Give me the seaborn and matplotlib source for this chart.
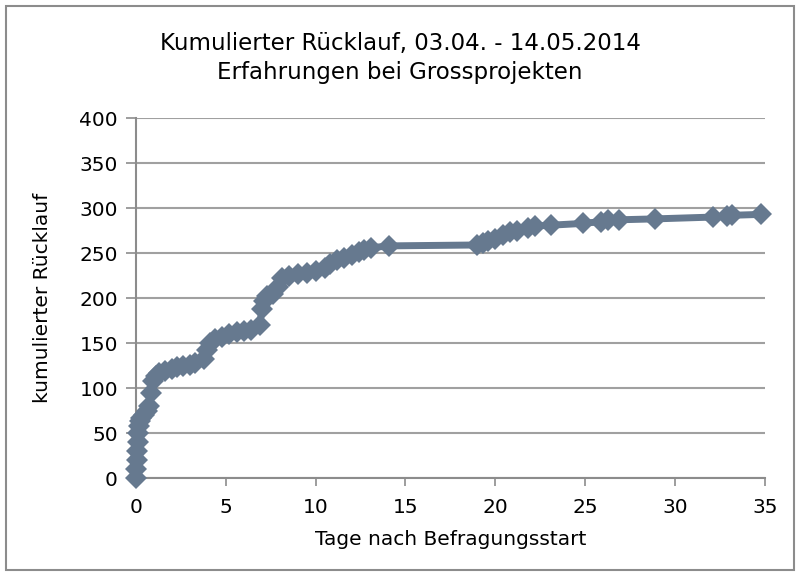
import matplotlib
matplotlib.use("Agg")
import matplotlib.pyplot as plt
import seaborn as sns
import pandas as pd
from matplotlib.patches import Rectangle

# days after survey start and cumulative responses
tage = [0.0, 0.02, 0.05, 0.08, 0.1, 0.12, 0.15, 0.2, 0.3, 0.45, 0.6, 0.75,
        0.85, 0.95, 1.1, 1.3, 1.6, 2.0, 2.3, 2.6, 3.0, 3.3, 3.8, 3.95, 4.1,
        4.4, 4.8, 5.2, 5.6, 6.0, 6.4, 6.9, 7.0, 7.1, 7.3, 7.6, 7.9, 8.1,
        8.5, 9.0, 9.5, 10.0, 10.5, 10.8, 11.2, 11.6, 12.0, 12.4, 12.7, 13.1,
        14.1, 19.0, 19.3, 19.6, 20.0, 20.4, 20.8, 21.2, 21.8, 22.2, 23.1,
        24.9, 25.9, 26.3, 26.9, 28.9, 32.1, 32.9, 33.2, 34.8]
ruecklauf = [0, 10, 20, 30, 40, 50, 58, 63, 67, 70, 74, 80,
             95, 108, 113, 117, 119, 121, 123, 125, 126, 128, 132, 142, 150,
             154, 157, 160, 162, 163, 165, 170, 188, 197, 202, 205, 212, 222,
             225, 227, 228, 230, 233, 238, 242, 245, 248, 251, 253, 256,
             258, 259, 261, 263, 266, 270, 273, 275, 278, 280, 281,
             283, 285, 287, 287, 288, 290, 291, 292, 293]
xticks = [0, 5, 10, 15, 20, 25, 30, 35]
yticks = [0, 50, 100, 150, 200, 250, 300, 350, 400]

df = pd.DataFrame({"tage": tage, "ruecklauf": ruecklauf})

sns.set_style("white")
plt.rcParams['font.family'] = ['DejaVu Sans']

farbe = "#66798f"
grau = "#8c8c8c"

fig = plt.figure(figsize=(8, 5.76), dpi=100)
ax = fig.add_axes([0.17, 0.17, 0.786, 0.625])

sns.lineplot(data=df, x="tage", y="ruecklauf", sort=False, ax=ax,
             color=farbe, linewidth=5, marker="D", markersize=11.5,
             markeredgewidth=0, zorder=3, clip_on=False)

ax.set_xlim(0, 35)
ax.set_ylim(0, 400)
ax.set_xticks(xticks)
ax.set_yticks(yticks)
ax.yaxis.grid(True, color="#a0a0a0", linewidth=1.5)
ax.set_axisbelow(True)
for s in ["top", "right"]:
    ax.spines[s].set_visible(False)
for s in ["left", "bottom"]:
    ax.spines[s].set_color(grau)
    ax.spines[s].set_linewidth(1.5)
ax.tick_params(axis="x", bottom=True, length=6, width=1.2, color=grau,
               labelsize=14.5, pad=8, labelcolor="black")
ax.tick_params(axis="y", left=True, length=7, width=1.2, color=grau,
               labelsize=14.5, pad=6, labelcolor="black")
ax.set_xlabel("Tage nach Befragungsstart", fontsize=14.5, color="black", labelpad=10)
ax.set_ylabel("kumulierter Rücklauf", fontsize=14.5, color="black", labelpad=20)

fig.text(0.5, 0.899, "Kumulierter Rücklauf, 03.04. - 14.05.2014\nErfahrungen bei Grossprojekten",
         ha="center", va="center", fontsize=16.5, linespacing=1.3, color="black")

fig.patches.append(Rectangle((0.007, 0.01), 0.986, 0.98, transform=fig.transFigure,
                             fill=False, edgecolor=grau, linewidth=1.5))

fig.savefig("out.png", dpi=100)
